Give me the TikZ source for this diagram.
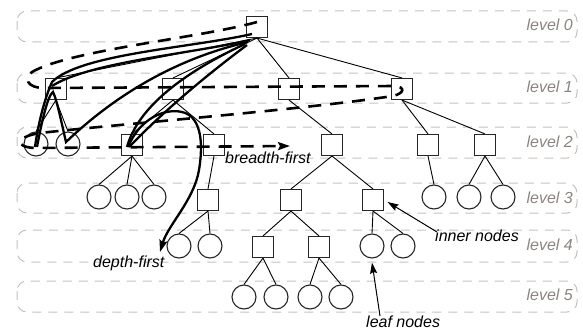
\documentclass[tikz,border=0pt]{standalone}
\usepackage{fontspec}
\setmainfont{Liberation Sans}
\usetikzlibrary{arrows.meta}
\definecolor{bandc}{RGB}{200,192,188}
\definecolor{levc}{RGB}{140,132,128}
\begin{document}
\begin{tikzpicture}[x=1pt,y=-1pt,
 sq/.style={draw=black!85,fill=white,line width=1.1pt,minimum size=21pt,inner sep=0pt},
 lf/.style={draw=black!85,fill=white,line width=1.1pt,circle,minimum size=24pt,inner sep=0pt},
 edge/.style={line width=0.9pt},
 band/.style={draw=bandc,line width=1pt,dash pattern=on 9pt off 7pt,rounded corners=10pt},
 levlab/.style={anchor=base east,text=levc,font=\itshape\fontsize{16}{18}\selectfont,inner sep=0pt},
 lab/.style={anchor=base west,font=\itshape\fontsize{16}{18}\selectfont,inner sep=0pt},
 bfs/.style={line width=2.6pt,dash pattern=on 13pt off 9pt,-{Stealth[length=12pt,width=8pt,inset=2pt]}},
 dfs/.style={line width=2.3pt},
 ptr/.style={line width=1pt,-{Stealth[length=11pt,width=7pt,inset=1.5pt]}}]
\useasboundingbox (0,0) rectangle (583,329);
% level bands
\draw[band] (17,11) rectangle (577,42);
\draw[band] (17,73) rectangle (577,103);
\draw[band] (17,127) rectangle (577,158);
\draw[band] (17,183) rectangle (577,213);
\draw[band] (17,230) rectangle (577,262);
\draw[band] (17,281) rectangle (577,312);
\node[levlab] (lv0) at (573,31) {level 0};
\node[levlab] (lv1) at (573,92) {level 1};
\node[levlab] (lv2) at (573,147) {level 2};
\node[levlab] (lv3) at (573,203) {level 3};
\node[levlab] (lv4) at (573,250) {level 4};
\node[levlab] (lv5) at (573,300) {level 5};
% tree nodes
\node[sq] (r) at (257,27) {};
\node[sq] (a) at (56,89) {};
\node[sq] (b) at (173,89) {};
\node[sq] (c) at (289,89) {};
\node[sq] (d) at (402,89) {};
\node[lf] (a1) at (36,144) {};
\node[lf] (a2) at (68,144) {};
\node[sq] (b1) at (132,145) {};
\node[sq] (b2) at (214,145) {};
\node[sq] (c1) at (332,145) {};
\node[sq] (d1) at (428,145) {};
\node[sq] (d2) at (485,145) {};
\node[lf] (b11) at (99,197) {};
\node[lf] (b12) at (127,197) {};
\node[lf] (b13) at (154,197) {};
\node[sq] (b21) at (208,200) {};
\node[sq] (c11) at (291,200) {};
\node[sq] (c12) at (373,200) {};
\node[lf] (d11) at (434,197) {};
\node[lf] (d21) at (469,197) {};
\node[lf] (d22) at (503,197) {};
\node[lf] (b211) at (179,246) {};
\node[lf] (b212) at (210,246) {};
\node[sq] (c111) at (263,247) {};
\node[sq] (c112) at (319,247) {};
\node[lf] (c121) at (372,246) {};
\node[lf] (c122) at (403,246) {};
\node[lf] (e1) at (244,297) {};
\node[lf] (e2) at (276,297) {};
\node[lf] (e3) at (310,297) {};
\node[lf] (e4) at (341,297) {};
% tree edges
\foreach \p/\ch in {r/a,r/b,r/c,r/d,a/a1,a/a2,b/b1,b/b2,c/c1,d/d1,d/d2,
  b1/b11,b1/b12,b1/b13,b2/b21,c1/c11,c1/c12,d1/d11,d2/d21,d2/d22,
  b21/b211,b21/b212,c11/c111,c11/c112,c12/c121,c12/c122,
  c111/e1,c111/e2,c112/e3,c112/e4}
  \draw[edge] (\p.south) -- (\ch.north);
% breadth-first traversal
\draw[bfs] (257,22) .. controls (200,38) and (70,50) .. (32,72)
  .. controls (24,78) and (26,88) .. (45,88) -- (395,86)
  .. controls (405,87) and (405,93) .. (393,96)
  .. controls (300,110) and (120,124) .. (40,133)
  .. controls (15,137) and (14,147) .. (35,148) -- (290,146);
\node[lab] (bf) at (225,163) {breadth-first};
% depth-first traversal
\draw[dfs] (252,34) .. controls (190,48) and (80,54) .. (52,82)
  .. controls (44,100) and (38,125) .. (35,147);
\draw[dfs] (52,86) .. controls (90,62) and (190,54) .. (250,40);
\draw[dfs] (37,147) .. controls (42,120) and (48,95) .. (53,92)
  .. controls (57,100) and (62,125) .. (66,142)
  .. controls (110,100) and (170,60) .. (248,42);
\draw[dfs] (245,44) .. controls (200,65) and (140,100) .. (127,147);
\draw[dfs] (129,147) .. controls (160,115) and (200,80) .. (247,45);
\draw[dfs,-{Stealth[length=12pt,width=8pt,inset=2pt]}] (128,147)
  .. controls (140,118) and (165,108) .. (182,112)
  .. controls (200,116) and (204,140) .. (199,170)
  .. controls (194,200) and (168,225) .. (160,252);
\node[lab] (df) at (93,267) {depth-first};
% pointers
\node[lab] (inn) at (435,241) {inner nodes};
\node[lab] (lfn) at (366,327) {leaf nodes};
\coordinate (inntail) at (437,232);
\coordinate (lftail) at (380,316);
\draw[ptr] (inntail) -- ([xshift=3.5pt,yshift=-2pt]c12.east);
\draw[ptr] (lftail) -- ([yshift=-4pt]c121.south);
\end{tikzpicture}
\end{document}
